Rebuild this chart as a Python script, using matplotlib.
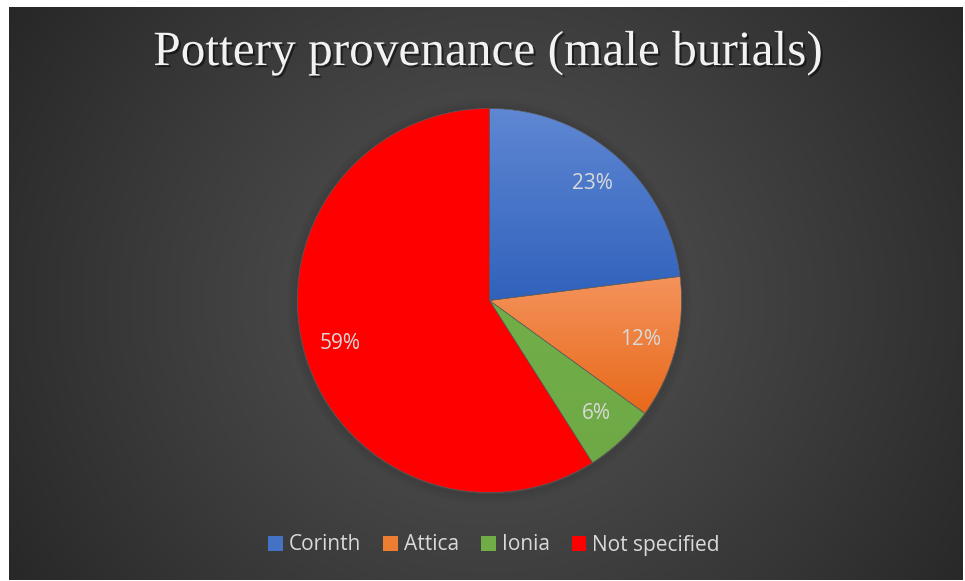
import numpy as np
import matplotlib
matplotlib.use("Agg")
import matplotlib.pyplot as plt
import matplotlib.patheffects as pe
from matplotlib.patches import Rectangle, Circle, PathPatch
from matplotlib.colors import LinearSegmentedColormap

# Data
categories = ["Corinth", "Attica", "Ionia", "Not specified"]
shares = [23, 12, 6, 59]
title_text = "Pottery provenance (male burials)"

# Slice fills: (top colour, bottom colour) for a vertical gradient
slice_gradients = [
    ("#5f87d3", "#3062bc"),
    ("#f4935c", "#e8691a"),
    ("#71ae48", "#6ea945"),
    ("#ff0000", "#ff0000"),
]
legend_colors = ["#4472c4", "#ed7d31", "#70ad47", "#ff0000"]

W, H, DPI = 965, 581, 100
fig = plt.figure(figsize=(W / DPI, H / DPI), dpi=DPI)
fig.patch.set_facecolor("white")

# Dark panel with a radial gradient
px0, px1, py0, py1 = 9, 963, 7, 580
bg = fig.add_axes([px0 / W, 1 - py1 / H, (px1 - px0) / W, (py1 - py0) / H])
bg.set_axis_off()
ny, nx = 300, 500
yy, xx = np.mgrid[0:ny, 0:nx]
cx, cy = (490 - px0) / (px1 - px0) * nx, (300 - py0) / (py1 - py0) * ny
r = np.sqrt(((xx - cx) / (nx * 0.6)) ** 2 + ((yy - cy) / (ny * 0.95)) ** 2)
r = np.clip(r, 0, 1)
inner, outer = np.array([0x54, 0x54, 0x54]) / 255, np.array([0x27, 0x27, 0x27]) / 255
t = r[..., None] ** 1.1
img = inner * (1 - t) + outer * t
bg.imshow(img, extent=[0, 1, 0, 1], aspect="auto", origin="upper")
bg.set_xlim(0, 1)
bg.set_ylim(0, 1)

# Pie axes, square in pixels
pcx, pcy, prad = 489.5, 300.5, 192
size = 2 * prad * 1.1
ax = fig.add_axes([(pcx - size / 2) / W, 1 - (pcy + size / 2) / H, size / W, size / H])
ax.set_axis_off()

wedges, _ = ax.pie(
    shares, startangle=90, counterclock=False, radius=1.0,
    wedgeprops=dict(linewidth=0.4, edgecolor="#5a5a5a"),
)
ax.set_aspect("equal")

# Soft shadow around the pie rim
for k in range(8):
    ax.add_patch(Circle((0.0, -0.006), 1.0 + 0.006 * (k + 1), facecolor="none",
                        edgecolor="black", linewidth=1.2, alpha=0.07 * (1 - k / 8),
                        zorder=0))

# Gradient fills clipped to each wedge
for w, (c_top, c_bot) in zip(wedges, slice_gradients):
    w.set_facecolor(c_bot)
    bb = w.get_path().get_extents(w.get_patch_transform())
    cmap = LinearSegmentedColormap.from_list("g", [c_bot, c_top])
    grad = np.linspace(0, 1, 256).reshape(-1, 1)
    im = ax.imshow(grad, cmap=cmap, origin="lower", aspect="auto",
                   extent=[bb.x0, bb.x1, bb.y0, bb.y1], zorder=w.get_zorder() + 0.1)
    im.set_clip_path(w)
    edge = PathPatch(
        w.get_path().transformed(w.get_patch_transform()), facecolor="none",
        edgecolor="#5a5a5a", linewidth=0.4, zorder=w.get_zorder() + 0.2)
    ax.add_patch(edge)
ax.set_xlim(-1.1, 1.1)
ax.set_ylim(-1.1, 1.1)

# Percentage labels
label_font = ["Open Sans", "DejaVu Sans"]
for w, val in zip(wedges, shares):
    ang = np.deg2rad((w.theta1 + w.theta2) / 2)
    ax.text(0.81 * np.cos(ang), 0.81 * np.sin(ang), f"{val}%", ha="center", va="center",
            fontsize=15, color="#d9d9d9", family=label_font, zorder=10)

# Title
fig.text(488 / W, 1 - 53 / H, title_text, ha="center", va="center",
         fontsize=35.5, color="#f2f2f2", family=["Liberation Serif", "DejaVu Serif"],
         path_effects=[pe.withSimplePatchShadow(offset=(1.5, -1.5), shadow_rgbFace="black",
                                                alpha=0.5)])

# Legend
handles = [Rectangle((0, 0), 1, 1, facecolor=c, edgecolor="none") for c in legend_colors]
leg = fig.legend(handles, categories, loc="center", bbox_to_anchor=(494 / W, 1 - 545 / H),
                 ncol=4, frameon=False, handlelength=0.7, handleheight=0.7,
                 handletextpad=0.3, columnspacing=1.05,
                 prop=dict(family=label_font, size=15))
for txt in leg.get_texts():
    txt.set_color("#d9d9d9")

fig.savefig("out.png", dpi=DPI, facecolor=fig.get_facecolor())
